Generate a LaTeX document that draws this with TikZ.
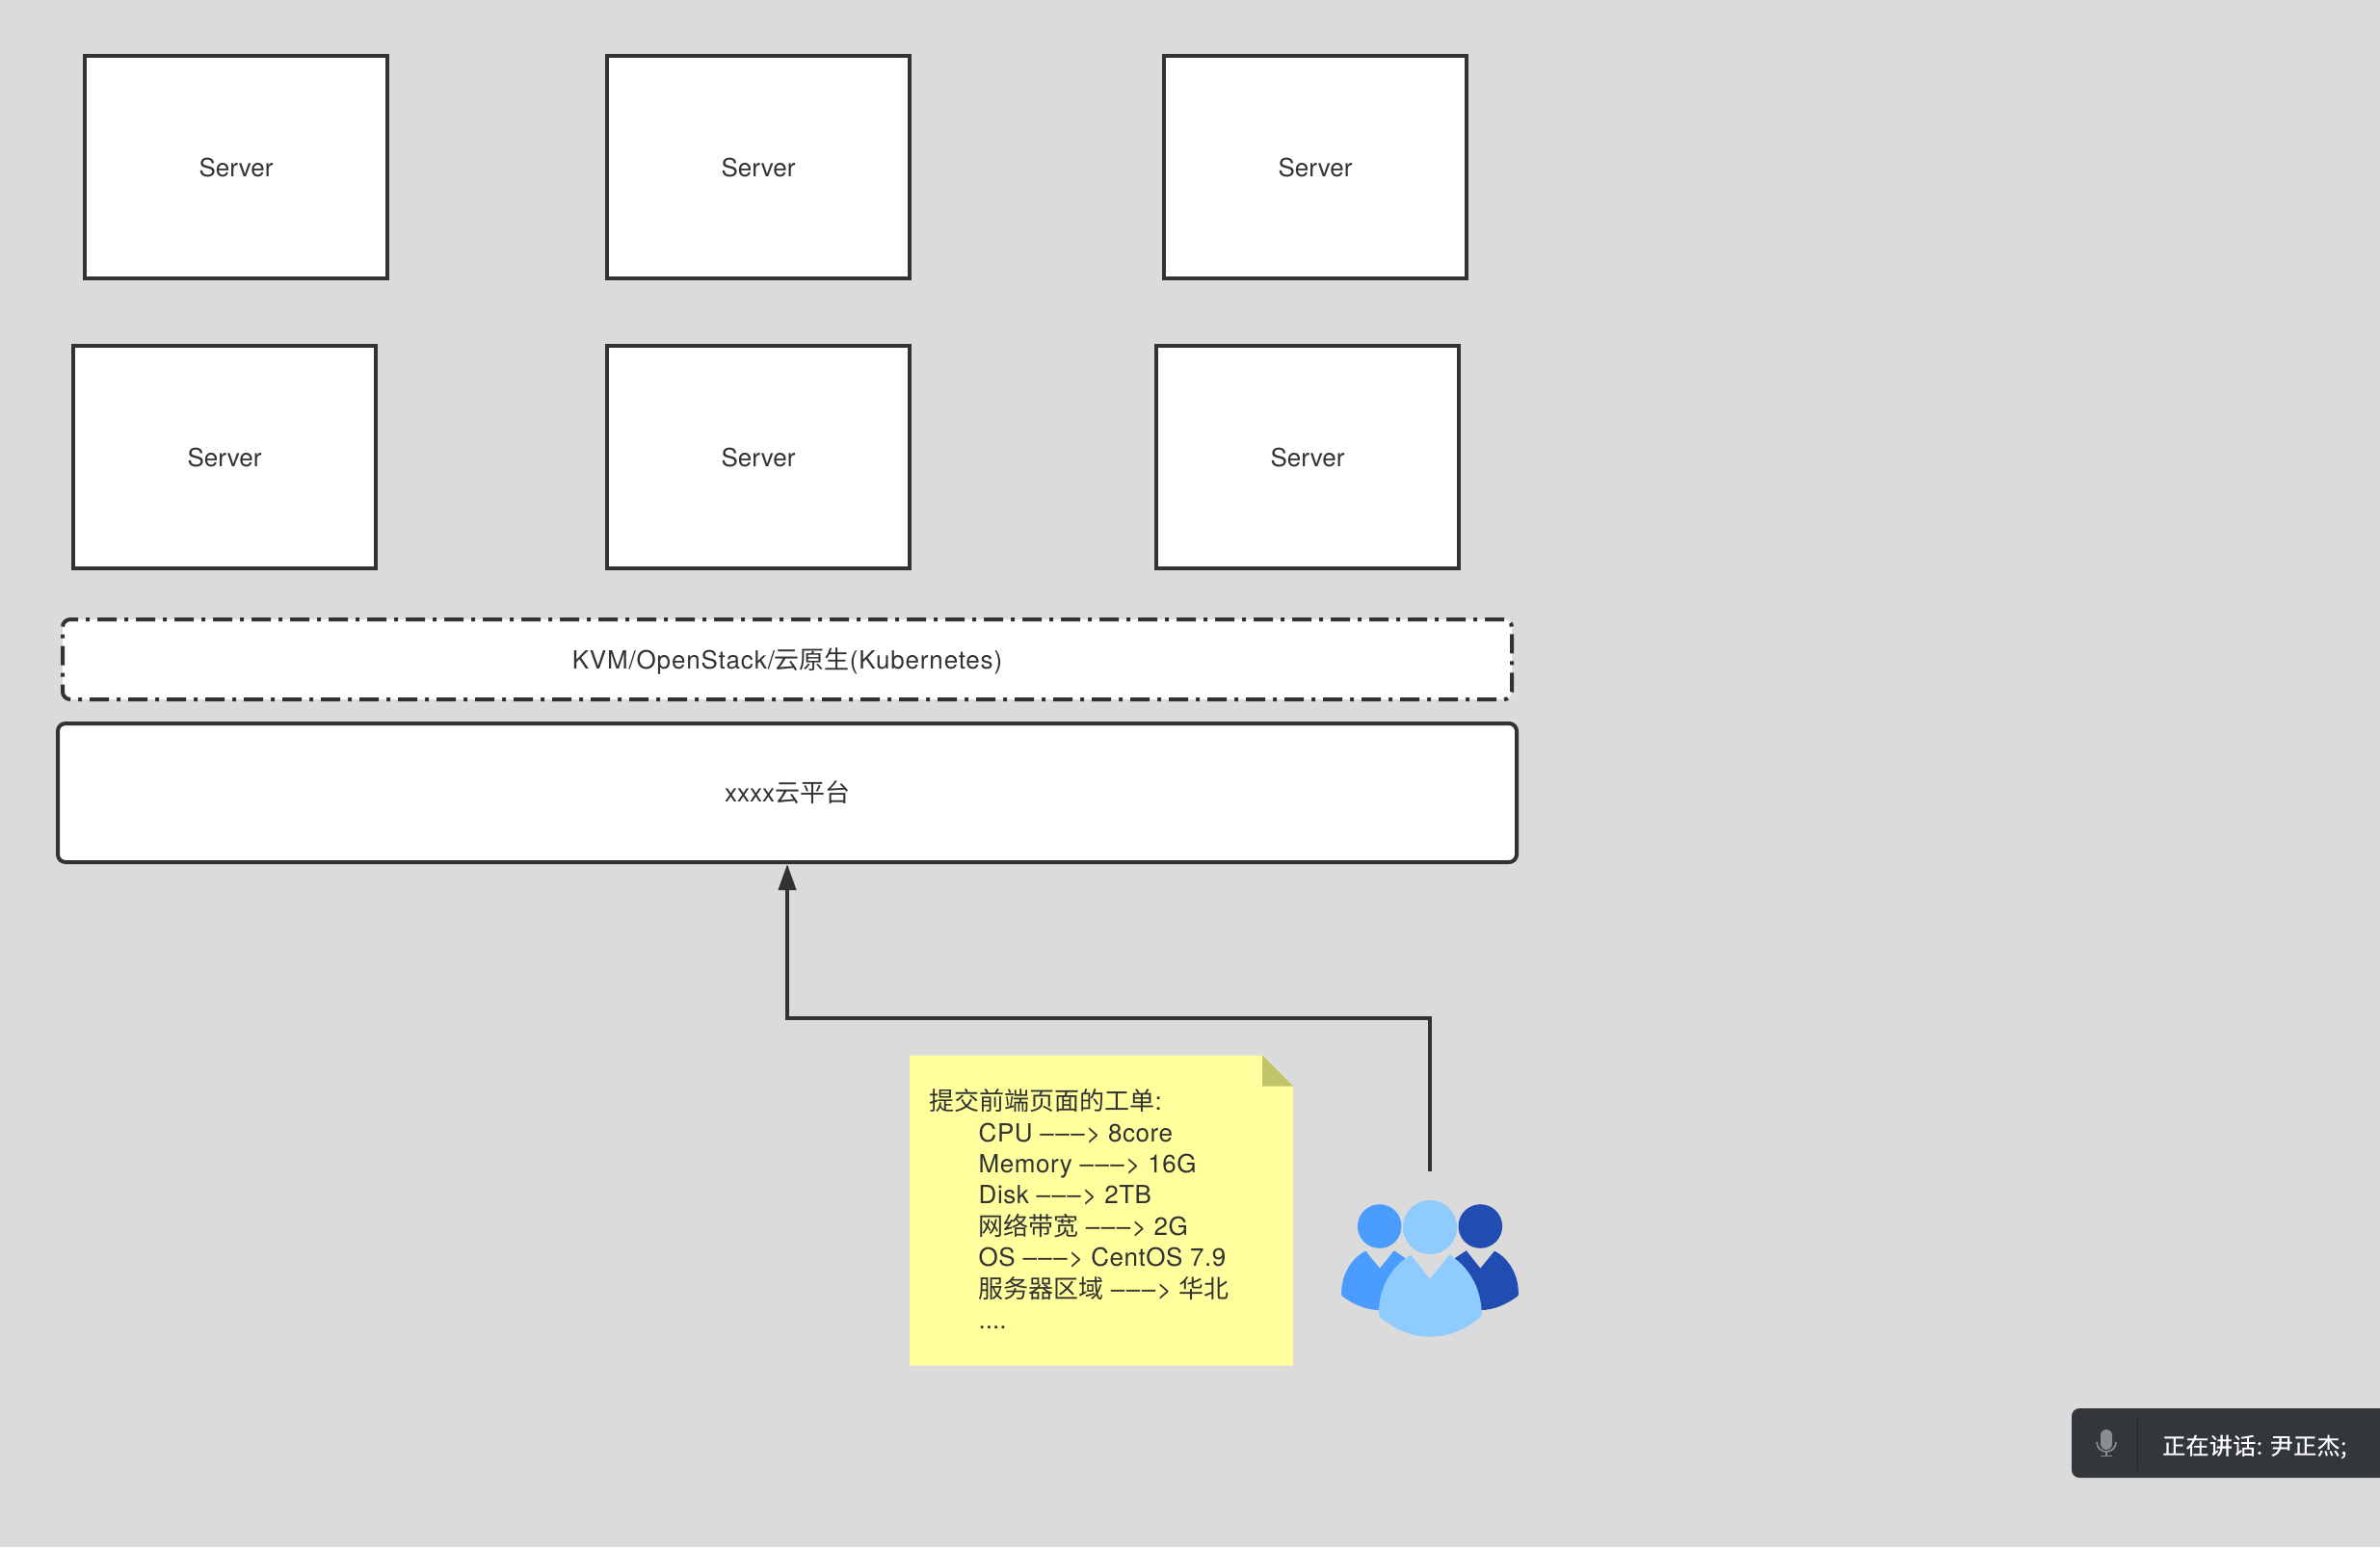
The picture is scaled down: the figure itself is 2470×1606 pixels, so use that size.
\documentclass[tikz,border=0pt]{standalone}
\usepackage{fontspec}
\setmainfont{TeX Gyre Heros}
\newfontfamily\zhfont{Noto Sans CJK SC}
\newfontfamily\widefont[LetterSpace=3.2]{TeX Gyre Heros}
\newfontfamily\notefont[LetterSpace=2]{TeX Gyre Heros}
\newfontfamily\speakfont[LetterSpace=1.4,FakeBold=0.4]{Noto Sans CJK SC}
\newcommand{\zh}[1]{{\zhfont #1}}
\newcommand{\arrowtxt}{\textendash\kern1.5pt\textendash\kern1.5pt\textendash\kern1.5pt>}
\usetikzlibrary{arrows.meta}
\definecolor{bgcolor}{HTML}{DBDBDB}
\definecolor{inkcolor}{HTML}{323232}
\definecolor{notecolor}{HTML}{FFFF9E}
\definecolor{foldcolor}{HTML}{C2C46C}
\definecolor{userlight}{HTML}{8ECBFF}
\definecolor{usermid}{HTML}{4A9DFF}
\definecolor{userdark}{HTML}{214DB3}
\definecolor{barcolor}{HTML}{33363B}
\definecolor{bardark}{HTML}{26282C}
\definecolor{miccolor}{HTML}{8A8D91}
\tikzset{
	boxtext/.style = {font=\fontsize{26}{32.4}\selectfont, text=inkcolor},
	serverbox/.style = {boxtext, draw=inkcolor, fill=white, line width=4pt, inner sep=0pt, minimum width=314pt, minimum height=231pt, text height=19.6pt, text depth=0pt},
	layerbox/.style = {boxtext, draw=inkcolor, fill=white, line width=4pt, inner sep=0pt, rounded corners=8pt, text height=19.6pt, text depth=0pt},
}

\begin{document}
\begin{tikzpicture}[x=1pt, y=-1pt]
		%%%%% START %%%%%
		\useasboundingbox (0, 0) rectangle (2470, 1606);
		\fill[bgcolor] (0, 0) rectangle (2470, 1606);
		
		\node[serverbox] (server1) at (245, 173.5) {Server};
		\node[serverbox] (server2) at (787, 173.5) {Server};
		\node[serverbox] (server3) at (1365, 173.5) {Server};
		\node[serverbox] (server4) at (233, 474.5) {Server};
		\node[serverbox] (server5) at (787, 474.5) {Server};
		\node[serverbox] (server6) at (1357, 474.5) {Server};
		
		\node[layerbox, dash pattern=on 20pt off 8pt on 4pt off 8pt, minimum width=1504pt, minimum height=83pt] (virt) at (817, 684.5) {{\widefont KVM/OpenStack/}\zh{云原生}{\widefont (Kubernetes)}};
		\node[layerbox, minimum width=1514pt, minimum height=144pt] (platform) at (817, 823) {xxxx\zh{云平台}};
		
		\coordinate (usertop) at (1484, 1216);
		\draw[draw=inkcolor, line width=4pt, -{Triangle[width=18pt, length=27pt]}] (usertop) -- (1484, 1056.5) -| (platform.south);
		
		\fill[notecolor] (944, 1095.5) -- (1310, 1095.5) -- (1342, 1127.5) -- (1342, 1417.5) -- (944, 1417.5) -- cycle;
		\fill[foldcolor] (1310, 1095.5) -- (1342, 1127.5) -- (1310, 1127.5) -- cycle;
		\node[boxtext, anchor=north west, inner sep=0pt, align=left] (ticket) at (964.5, 1130.5) {\zh{提交前端页面的工单}:\\
			\hspace*{51pt}{\notefont CPU \arrowtxt{} 8core}\\
			\hspace*{51pt}{\notefont Memory \arrowtxt{} 16G}\\
			\hspace*{51pt}{\notefont Disk \arrowtxt{} 2TB}\\
			\hspace*{51pt}\zh{网络带宽} {\notefont\arrowtxt{} 2G}\\
			\hspace*{51pt}{\notefont OS \arrowtxt{} CentOS 7.9}\\
			\hspace*{51pt}\zh{服务器区域} {\notefont\arrowtxt{}} \zh{华北}\\
			\hspace*{51pt}....};
		
		\fill[usermid] (1392.3, 1345) .. controls (1391, 1325) and (1402, 1306) .. (1417.3, 1298.7) -- (1432, 1316.7) -- (1446.7, 1298.3) -- (1458.3, 1306) -- (1431, 1360) .. controls (1418, 1360) and (1404, 1354) .. (1392.3, 1345);
		\fill[userdark] (1575.7, 1345) .. controls (1577, 1325) and (1566, 1306) .. (1551, 1298.7) -- (1536.3, 1316.7) -- (1521.7, 1298.3) -- (1510, 1306) -- (1537, 1360) .. controls (1550, 1360) and (1564, 1354) .. (1575.7, 1345);
		\fill[userlight] (1431, 1366) .. controls (1430, 1336) and (1445, 1314) .. (1464.3, 1302.7) -- (1484, 1327.7) -- (1504.3, 1302.7) .. controls (1523, 1314) and (1538, 1336) .. (1537.7, 1366) .. controls (1523, 1379) and (1504, 1387.7) .. (1484, 1387.7) .. controls (1464, 1387.7) and (1445, 1379) .. (1431, 1366);
		\fill[usermid] (1431.7, 1273) circle (22.8);
		\fill[userdark] (1536.3, 1273) circle (22.8);
		\fill[userlight] (1484, 1274) circle (28);
		
		\fill[barcolor, rounded corners=8pt] (2470, 1462) -- (2150, 1462) -- (2150, 1534) -- (2470, 1534);
		\draw[bardark, line width=1.5pt] (2218.7, 1470) -- (2218.7, 1526);
		\fill[miccolor, rounded corners=6pt] (2180, 1484) rectangle (2192, 1505);
		\draw[miccolor, line width=1.7pt] (2196, 1497) arc (0:180:10);
		\draw[miccolor, line width=1.7pt] (2186, 1507) -- (2186, 1511);
		\draw[miccolor, line width=1.7pt] (2180, 1511.5) -- (2192, 1511.5);
		\node[anchor=west, inner sep=0pt, text=white, font=\fontsize{24}{28}\selectfont\speakfont] (speaker) at (2244, 1502) {正在讲话: 尹正杰;};
		%%%%% END %%%%%
	\end{tikzpicture}
\end{document}
